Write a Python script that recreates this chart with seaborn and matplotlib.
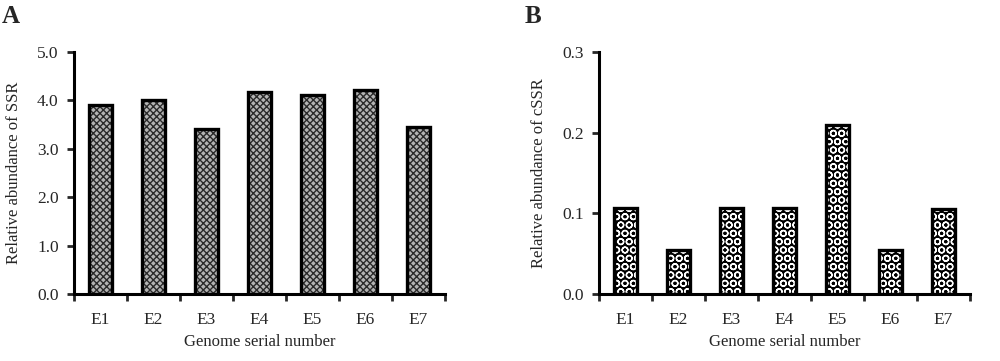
import matplotlib
matplotlib.use('Agg')
import matplotlib.pyplot as plt
import seaborn as sns
import pandas as pd
import numpy as np

# Data
genomes = ['E1', 'E2', 'E3', 'E4', 'E5', 'E6', 'E7']
ssr_abundance = [3.91, 4.00, 3.40, 4.18, 4.12, 4.22, 3.46]
cssr_abundance = [0.106, 0.054, 0.106, 0.106, 0.210, 0.054, 0.105]
ssr_ticks = [0.0, 1.0, 2.0, 3.0, 4.0, 5.0]
cssr_ticks = [0.0, 0.1, 0.2, 0.3]

sns.set_style('white')
plt.rcParams['font.family'] = ['Liberation Serif', 'DejaVu Serif']
plt.rcParams['hatch.linewidth'] = 1.0

fig = plt.figure(figsize=(10, 3.61), dpi=100)
ax_a = fig.add_axes([0.074, 0.1856, 0.371, 0.6704])
ax_b = fig.add_axes([0.599, 0.1856, 0.371, 0.6704])


def draw_panel(ax, values, yticks, ylabel, hatch, face, hatch_color):
    df = pd.DataFrame({'genome': genomes, 'value': values})
    sns.barplot(data=df, x='genome', y='value', ax=ax, width=0.45,
                color=face, edgecolor='black', linewidth=2.4)
    for p in ax.patches:
        p.set_hatch(hatch)
        p.set_facecolor(face)
        p._hatch_color = matplotlib.colors.to_rgba(hatch_color)
    ax.set_xlim(-0.5, 6.5)
    ax.set_ylim(yticks[0], yticks[-1])
    ax.set_yticks(yticks)
    ax.set_yticklabels([f'{t:.1f}' for t in yticks], fontsize=12.5)
    # boundaries get tick marks, category centres get labels
    ax.set_xticks(np.arange(-0.5, 7, 1.0))
    ax.set_xticklabels([])
    ax.set_xticks(range(len(genomes)), minor=True)
    ax.set_xticklabels(genomes, minor=True, fontsize=12.5)
    ax.tick_params(axis='x', which='major', direction='out', length=5, width=2, bottom=True)
    ax.tick_params(axis='x', which='minor', length=0, pad=13)
    ax.tick_params(axis='y', direction='out', length=5, width=2, left=True, pad=6)
    for s in ['top', 'right']:
        ax.spines[s].set_visible(False)
    for s in ['left', 'bottom']:
        ax.spines[s].set_linewidth(2.2)
        ax.spines[s].set_color('black')
    ax.set_xlabel('Genome serial number', fontsize=12, labelpad=4)
    ax.set_ylabel(ylabel, fontsize=12, labelpad=11)


draw_panel(ax_a, ssr_abundance, ssr_ticks, 'Relative abundance of SSR',
           'xxxxx', '#b4b4b4', '#2a2a2a')
draw_panel(ax_b, cssr_abundance, cssr_ticks, 'Relative abundance of cSSR',
           'OO', 'black', 'white')

fig.text(0.002, 0.985, 'A', fontsize=18, fontweight='bold', va='top', ha='left')
fig.text(0.525, 0.985, 'B', fontsize=18, fontweight='bold', va='top', ha='left')

fig.savefig('out.png', dpi=100)
